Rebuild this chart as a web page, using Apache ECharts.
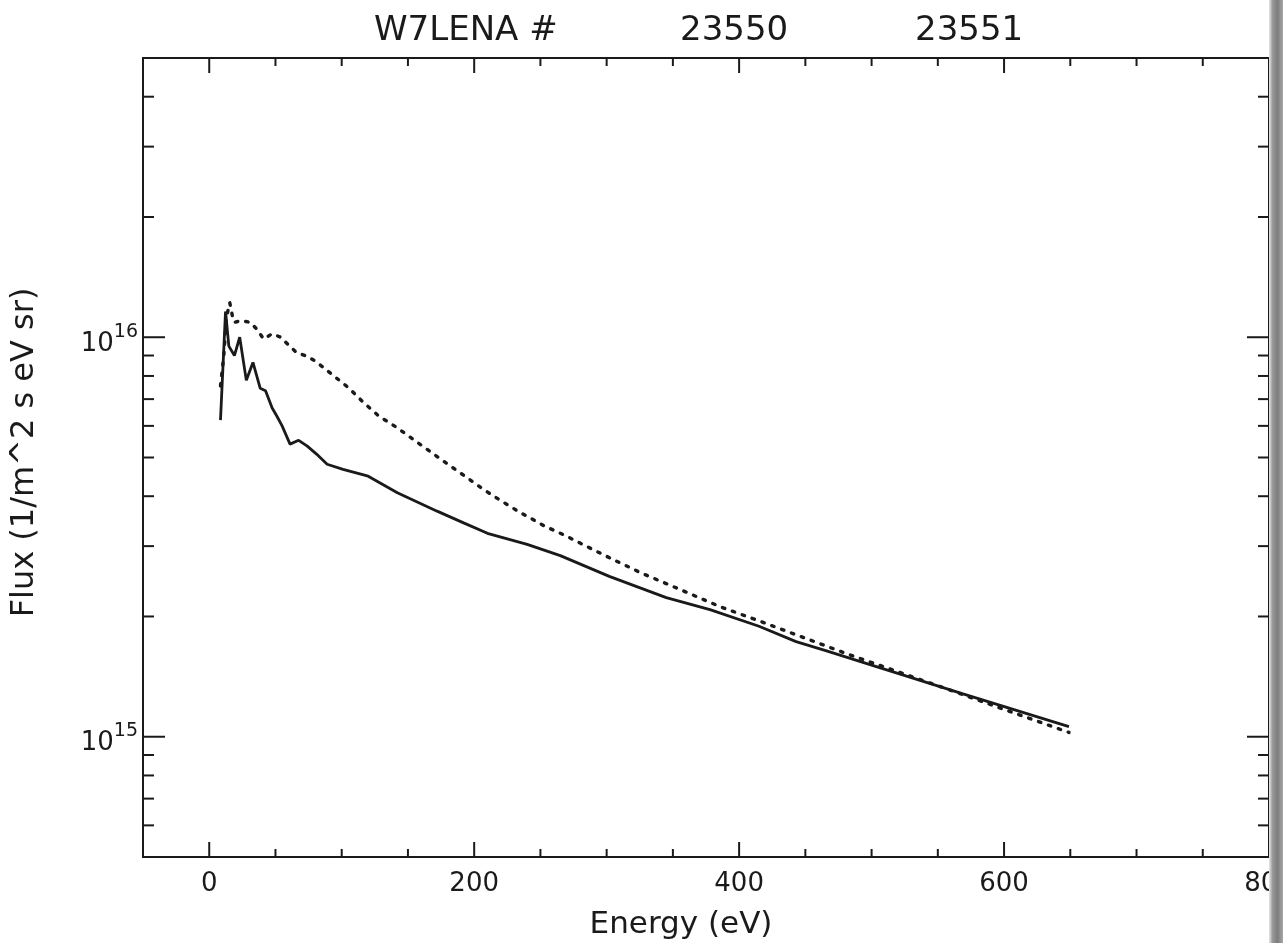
<!DOCTYPE html>
<html>
<head>
<meta charset="utf-8">
<script src="https://cdn.jsdelivr.net/npm/echarts@6/dist/echarts.min.js"></script>
<style>
html,body{margin:0;padding:0;background:#fff;overflow:hidden;}
#chart{width:1283px;height:943px;}
</style>
</head>
<body>
<div id="chart"></div>
<script>
// ---- data ----
const solidX = [8.5, 12.3, 14.8, 19, 23, 28, 33, 38.5, 42.5, 47.5, 51, 55, 61, 67.5, 74, 81, 89, 101, 120, 142, 172, 192, 210, 240, 265, 302, 345, 378, 415, 443, 466, 506, 569, 649];
const solidY = [6.2e15, 1.16e16, 9.5e15, 9.0e15, 1.0e16, 7.8e15, 8.65e15, 7.45e15, 7.35e15, 6.65e15, 6.35e15, 6.0e15, 5.4e15, 5.52e15, 5.34e15, 5.1e15, 4.81e15, 4.67e15, 4.49e15, 4.08e15, 3.67e15, 3.43e15, 3.23e15, 3.03e15, 2.84e15, 2.52e15, 2.23e15, 2.08e15, 1.89e15, 1.73e15, 1.64e15, 1.49e15, 1.28e15, 1.06e15];

const dottedX = [8.5, 11, 13, 15.5, 17.5, 19, 24, 31, 36, 41, 47.5, 54, 60, 66, 73, 80, 92.7, 105, 116.6, 128, 141.7, 154, 168, 180.5, 193, 207, 219, 233, 253, 268.6, 297, 326, 355, 385, 415, 443, 482, 518.5, 556, 594, 649];
const dottedY = [7.55e15, 9.0e15, 1.12e16, 1.22e16, 1.13e16, 1.09e16, 1.10e16, 1.09e16, 1.047e16, 9.9e15, 1.02e16, 1.0e16, 9.55e15, 9.15e15, 8.98e15, 8.72e15, 8.07e15, 7.48e15, 6.86e15, 6.35e15, 5.94e15, 5.55e15, 5.14e15, 4.8e15, 4.49e15, 4.16e15, 3.92e15, 3.67e15, 3.37e15, 3.19e15, 2.86e15, 2.57e15, 2.34e15, 2.12e15, 1.95e15, 1.8e15, 1.61e15, 1.46e15, 1.32e15, 1.19e15, 1.025e15];

// ---- axes / ticks ----
const X_MIN = -50, X_MAX = 800;
const Y_MIN = 5e14, Y_MAX = 5e16;
const xLabels = [0, 200, 400, 600, 800];
const xMajorTicks = [0, 200, 400, 600, 800];
const xMinorTicks = [50, 100, 150, 250, 300, 350, 450, 500, 550, 650, 700, 750];
const yMajorTicks = [1e15, 1e16];
const yMinorTicks = [6e14, 7e14, 8e14, 9e14, 2e15, 3e15, 4e15, 5e15, 6e15, 7e15, 8e15, 9e15, 2e16, 3e16, 4e16];

const titleParts = ['W7LENA #', '23550', '23551'];
const xName = 'Energy (eV)';
const yName = 'Flux (1/m^2 s eV sr)';

const INK = '#1a1a1a';
const FONT = 'DejaVu Sans';

function pairs(xs, ys) { return xs.map((x, i) => [x, ys[i]]); }

function xTickRender(len) {
  return function (params, api) {
    const v = api.value(0);
    const b = api.coord([v, Y_MIN]);
    const t = api.coord([v, Y_MAX]);
    return {
      type: 'group',
      children: [
        { type: 'line', shape: { x1: b[0], y1: b[1], x2: b[0], y2: b[1] - len }, style: { stroke: INK, lineWidth: 2 } },
        { type: 'line', shape: { x1: t[0], y1: t[1], x2: t[0], y2: t[1] + len }, style: { stroke: INK, lineWidth: 2 } }
      ]
    };
  };
}
function yTickRender(len) {
  return function (params, api) {
    const v = api.value(1);
    const l = api.coord([X_MIN, v]);
    const r = api.coord([X_MAX, v]);
    return {
      type: 'group',
      children: [
        { type: 'line', shape: { x1: l[0], y1: l[1], x2: l[0] + len, y2: l[1] }, style: { stroke: INK, lineWidth: 2 } },
        { type: 'line', shape: { x1: r[0], y1: r[1], x2: r[0] - len, y2: r[1] }, style: { stroke: INK, lineWidth: 2 } }
      ]
    };
  };
}

const chart = echarts.init(document.getElementById('chart'), null, { renderer: 'canvas' });

const option = {
  backgroundColor: '#ffffff',
  animation: false,
  grid: { left: 143, right: 14, top: 58, bottom: 86, containLabel: false, outerBoundsMode: 'none', show: true, borderColor: INK, borderWidth: 2, backgroundColor: 'transparent' },
  xAxis: {
    type: 'value', min: X_MIN, max: X_MAX, interval: 50,
    axisLine: { show: false }, axisTick: { show: false }, splitLine: { show: false },
    axisLabel: {
      color: INK, fontFamily: FONT, fontSize: 26, margin: 14,
      showMinLabel: true, showMaxLabel: true,
      formatter: v => (xLabels.indexOf(v) >= 0 ? String(v) : '')
    },
    name: xName, nameLocation: 'middle', nameGap: 52,
    nameTextStyle: { color: INK, fontFamily: FONT, fontSize: 31, padding: [0, 50, 0, 0] }
  },
  yAxis: {
    type: 'log', logBase: 10, min: Y_MIN, max: Y_MAX,
    axisLine: { show: false }, axisTick: { show: false }, splitLine: { show: false }, minorTick: { show: false },
    axisLabel: {
      color: INK, fontFamily: FONT, margin: 5,
      showMinLabel: true, showMaxLabel: true,
      formatter: function (v) {
        const e = Math.log10(v);
        if (Math.abs(e - Math.round(e)) < 1e-6) return '{b|10}{s|' + Math.round(e) + '}';
        return '';
      },
      rich: {
        b: { fontFamily: FONT, fontSize: 26, color: INK, lineHeight: 40, verticalAlign: 'bottom' },
        s: { fontFamily: FONT, fontSize: 19, color: INK, lineHeight: 40, verticalAlign: 'top', padding: [5, 0, 0, 0] }
      }
    },
    name: yName, nameLocation: 'middle', nameGap: 102, nameRotate: 90,
    nameTextStyle: { color: INK, fontFamily: FONT, fontSize: 32, padding: [0, 0, 0, 10] }
  },
  graphic: [
    { type: 'text', left: 374, top: 14, style: { text: titleParts[0], font: '34px "DejaVu Sans"', fill: INK } },
    { type: 'text', left: 680, top: 14, style: { text: titleParts[1], font: '34px "DejaVu Sans"', fill: INK } },
    { type: 'text', left: 915, top: 14, style: { text: titleParts[2], font: '34px "DejaVu Sans"', fill: INK } },
    {
      type: 'rect', right: 0, top: 0, z: 100,
      shape: { width: 14, height: 943 },
      style: {
        fill: new echarts.graphic.LinearGradient(0, 0, 1, 0, [
          { offset: 0, color: '#e8e8e8' }, { offset: 0.25, color: '#9a9a9a' },
          { offset: 0.6, color: '#7c7c7c' }, { offset: 1, color: '#a8a8a8' }
        ])
      }
    }
  ],
  series: [
    {
      type: 'line', name: '23550', data: pairs(solidX, solidY), showSymbol: false, symbol: 'none',
      lineStyle: { color: INK, width: 2.8 }, silent: true, z: 3
    },
    {
      type: 'line', name: '23551', data: pairs(dottedX, dottedY), showSymbol: false, symbol: 'none',
      lineStyle: { color: INK, width: 3.4, type: [2.5, 8], cap: 'round' }, silent: true, z: 3
    },
    { type: 'custom', data: xMajorTicks.map(v => [v, Y_MIN]), renderItem: xTickRender(15), silent: true, z: 4 },
    { type: 'custom', data: xMinorTicks.map(v => [v, Y_MIN]), renderItem: xTickRender(8), silent: true, z: 4 },
    { type: 'custom', data: yMajorTicks.map(v => [X_MIN, v]), renderItem: yTickRender(22), silent: true, z: 4 },
    { type: 'custom', data: yMinorTicks.map(v => [X_MIN, v]), renderItem: yTickRender(11), silent: true, z: 4 }
  ]
};
chart.setOption(option);
</script>
</body>
</html>
